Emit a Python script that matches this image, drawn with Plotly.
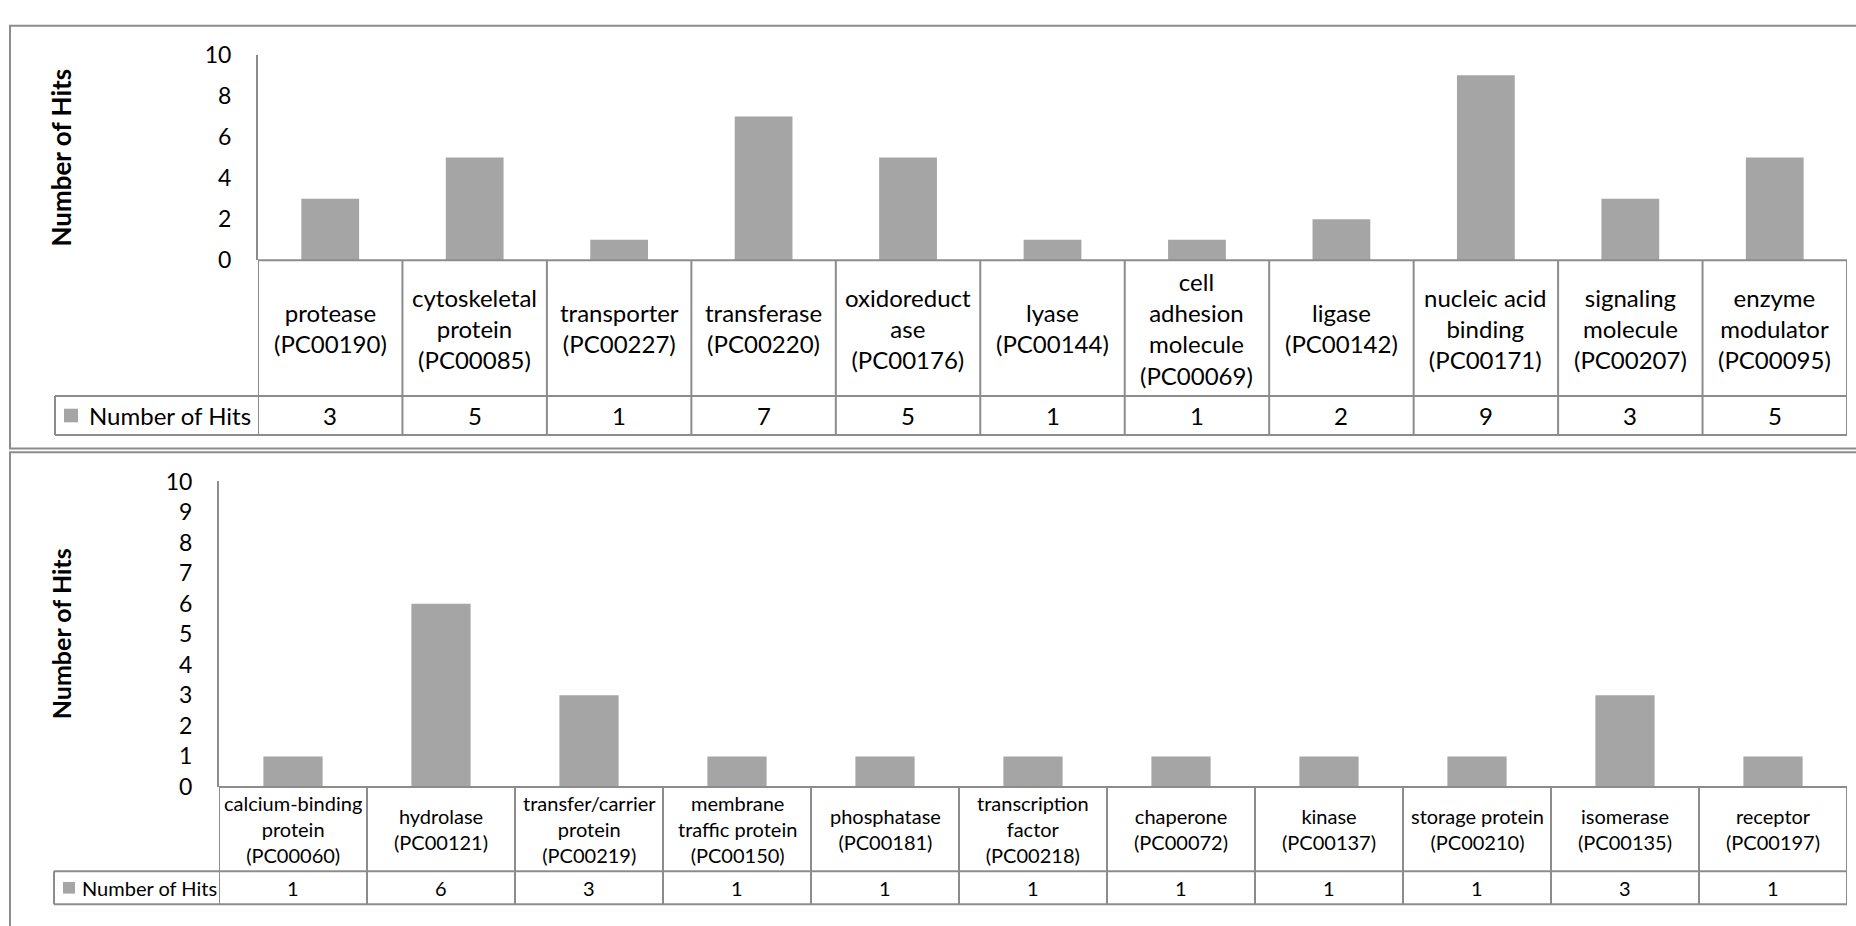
import plotly.graph_objects as go

W, H = 1856, 926

# ---- data -----------------------------------------------------------------
SERIES_NAME = "Number of Hits"

top_labels = [
    "protease\n(PC00190)",
    "cytoskeletal\nprotein\n(PC00085)",
    "transporter\n(PC00227)",
    "transferase\n(PC00220)",
    "oxidoreduct\nase\n(PC00176)",
    "lyase\n(PC00144)",
    "cell\nadhesion\nmolecule\n(PC00069)",
    "ligase\n(PC00142)",
    "nucleic acid\nbinding\n(PC00171)",
    "signaling\nmolecule\n(PC00207)",
    "enzyme\nmodulator\n(PC00095)",
]
top_hits = [3, 5, 1, 7, 5, 1, 1, 2, 9, 3, 5]
top_ticks = [0, 2, 4, 6, 8, 10]

bottom_labels = [
    "calcium-binding\nprotein\n(PC00060)",
    "hydrolase\n(PC00121)",
    "transfer/carrier\nprotein\n(PC00219)",
    "membrane\ntraffic protein\n(PC00150)",
    "phosphatase\n(PC00181)",
    "transcription\nfactor\n(PC00218)",
    "chaperone\n(PC00072)",
    "kinase\n(PC00137)",
    "storage protein\n(PC00210)",
    "isomerase\n(PC00135)",
    "receptor\n(PC00197)",
]
bottom_hits = [1, 6, 3, 1, 1, 1, 1, 1, 1, 3, 1]
bottom_ticks = [0, 1, 2, 3, 4, 5, 6, 7, 8, 9, 10]

# ---- styling --------------------------------------------------------------
FONT = "Lato, 'Open Sans', sans-serif"
BAR_COLOR = "#A5A5A5"
LINE_COLOR = "#8C8C8C"
TEXT_COLOR = "#000000"


def px(x):
    return x / W


def py(y):
    return 1 - y / H


panels = [
    dict(labels=top_labels, hits=top_hits, ticks=top_ticks,
         xa="x", ya="y", xkey="xaxis", ykey="yaxis",
         frame=(10, 11, 1880, 447), axis_x=258, right=1847,
         y_top=41, y_zero=253, cat_bottom=393, leg_bottom=433, leg_left=55,
         key_x=64, key_size=14, key_text_x=87,
         tick_font=23, title_font=26, cat_font=24, leg_font=24, title_x=61),
    dict(labels=bottom_labels, hits=bottom_hits, ticks=bottom_ticks,
         xa="x2", ya="y2", xkey="xaxis2", ykey="yaxis2",
         frame=(10, 451, 1880, 950), axis_x=219, right=1847,
         y_top=481, y_zero=796, cat_bottom=883, leg_bottom=917, leg_left=54,
         key_x=63, key_size=12, key_text_x=80,
         tick_font=23, title_font=25, cat_font=20, leg_font=20, title_x=61),
]

fig = go.Figure()
shapes = []
annotations = []
layout_axes = {}

for p in panels:
    keys = [lab.replace("\n", " ") for lab in p["labels"]]
    n = len(keys)

    fig.add_trace(go.Bar(
        x=keys, y=p["hits"], name=SERIES_NAME,
        xaxis=p["xa"], yaxis=p["ya"],
        marker=dict(color=BAR_COLOR, line=dict(width=0)),
        width=0.4, showlegend=False, hoverinfo="x+y",
    ))

    layout_axes[p["xkey"]] = dict(
        domain=[px(p["axis_x"]), px(p["right"])],
        type="category", categoryorder="array", categoryarray=keys,
        range=[-0.5, n - 0.5], showticklabels=False, showgrid=False,
        zeroline=False, showline=False, ticks="",
        anchor=p["ya"], fixedrange=True,
    )
    layout_axes[p["ykey"]] = dict(
        domain=[py(p["y_zero"]), py(p["y_top"])],
        range=[0, 10], tickmode="array", tickvals=p["ticks"],
        ticktext=[str(t) for t in p["ticks"]],
        showgrid=False, zeroline=False, showline=True,
        linecolor=LINE_COLOR, linewidth=2, ticks="",
        ticklabelstandoff=20,
        tickfont=dict(family=FONT, size=p["tick_font"], color=TEXT_COLOR),
        anchor=p["xa"], fixedrange=True,
    )

    # outer chart frame
    x0, y0, x1, y1 = p["frame"]
    shapes.append(dict(type="rect", xref="paper", yref="paper",
                       x0=px(x0), x1=px(x1), y0=py(y0), y1=py(y1),
                       line=dict(color=LINE_COLOR, width=2), layer="below"))

    # data table grid
    line = dict(color=LINE_COLOR, width=2)
    shapes.append(dict(type="line", xref="paper", yref="paper",
                       x0=px(p["axis_x"]), x1=px(p["right"]),
                       y0=py(p["y_zero"]), y1=py(p["y_zero"]), line=line))
    for yy in (p["cat_bottom"], p["leg_bottom"]):
        shapes.append(dict(type="line", xref="paper", yref="paper",
                           x0=px(p["leg_left"]), x1=px(p["right"]),
                           y0=py(yy), y1=py(yy), line=line))
    shapes.append(dict(type="line", xref="paper", yref="paper",
                       x0=px(p["leg_left"]), x1=px(p["leg_left"]),
                       y0=py(p["cat_bottom"]), y1=py(p["leg_bottom"]), line=line))
    for k in range(n + 1):
        shapes.append(dict(type="line", xref=p["xa"], yref="paper",
                           x0=k - 0.5, x1=k - 0.5,
                           y0=py(p["y_zero"]), y1=py(p["leg_bottom"]), line=line))

    # category names and values in the table
    cat_mid_px = (p["y_zero"] + p["cat_bottom"]) / 2
    val_mid_px = (p["cat_bottom"] + p["leg_bottom"]) / 2
    for key, lab, v in zip(keys, p["labels"], p["hits"]):
        annotations.append(dict(
            x=key, xref=p["xa"], y=py(cat_mid_px), yref="paper",
            text=lab.replace("\n", "<br>"), showarrow=False,
            xanchor="center", yanchor="middle", align="center",
            font=dict(family=FONT, size=p["cat_font"], color=TEXT_COLOR)))
        annotations.append(dict(
            x=key, xref=p["xa"], y=py(val_mid_px), yref="paper",
            text=str(v), showarrow=False,
            xanchor="center", yanchor="middle",
            font=dict(family=FONT, size=p["cat_font"], color=TEXT_COLOR)))

    # series key in the table's first cell
    half = p["key_size"] / 2
    shapes.append(dict(type="rect", xref="paper", yref="paper",
                       x0=px(p["key_x"]), x1=px(p["key_x"] + p["key_size"]),
                       y0=py(val_mid_px - half), y1=py(val_mid_px + half),
                       fillcolor=BAR_COLOR, line=dict(width=0)))
    annotations.append(dict(
        x=px(p["key_text_x"]), xref="paper", y=py(val_mid_px), yref="paper",
        text=SERIES_NAME, showarrow=False, xanchor="left", yanchor="middle",
        font=dict(family=FONT, size=p["leg_font"], color=TEXT_COLOR)))

    # vertical axis title
    annotations.append(dict(
        x=px(p["title_x"]), xref="paper",
        y=py((p["y_top"] + p["y_zero"]) / 2), yref="paper",
        text="<b>Number of Hits</b>", textangle=-90, showarrow=False,
        xanchor="center", yanchor="middle",
        font=dict(family=FONT, size=p["title_font"], color=TEXT_COLOR)))

fig.update_layout(
    width=W, height=H, autosize=False,
    margin=dict(l=0, r=0, t=0, b=0, pad=0),
    paper_bgcolor="white", plot_bgcolor="white",
    bargap=0.6, showlegend=False,
    shapes=shapes, annotations=annotations,
    font=dict(family=FONT, color=TEXT_COLOR),
    **layout_axes,
)

fig.write_html(
    "out.html",
    config={"displayModeBar": False},
    post_script="document.body.style.margin='0';document.body.style.overflow='hidden';",
)
